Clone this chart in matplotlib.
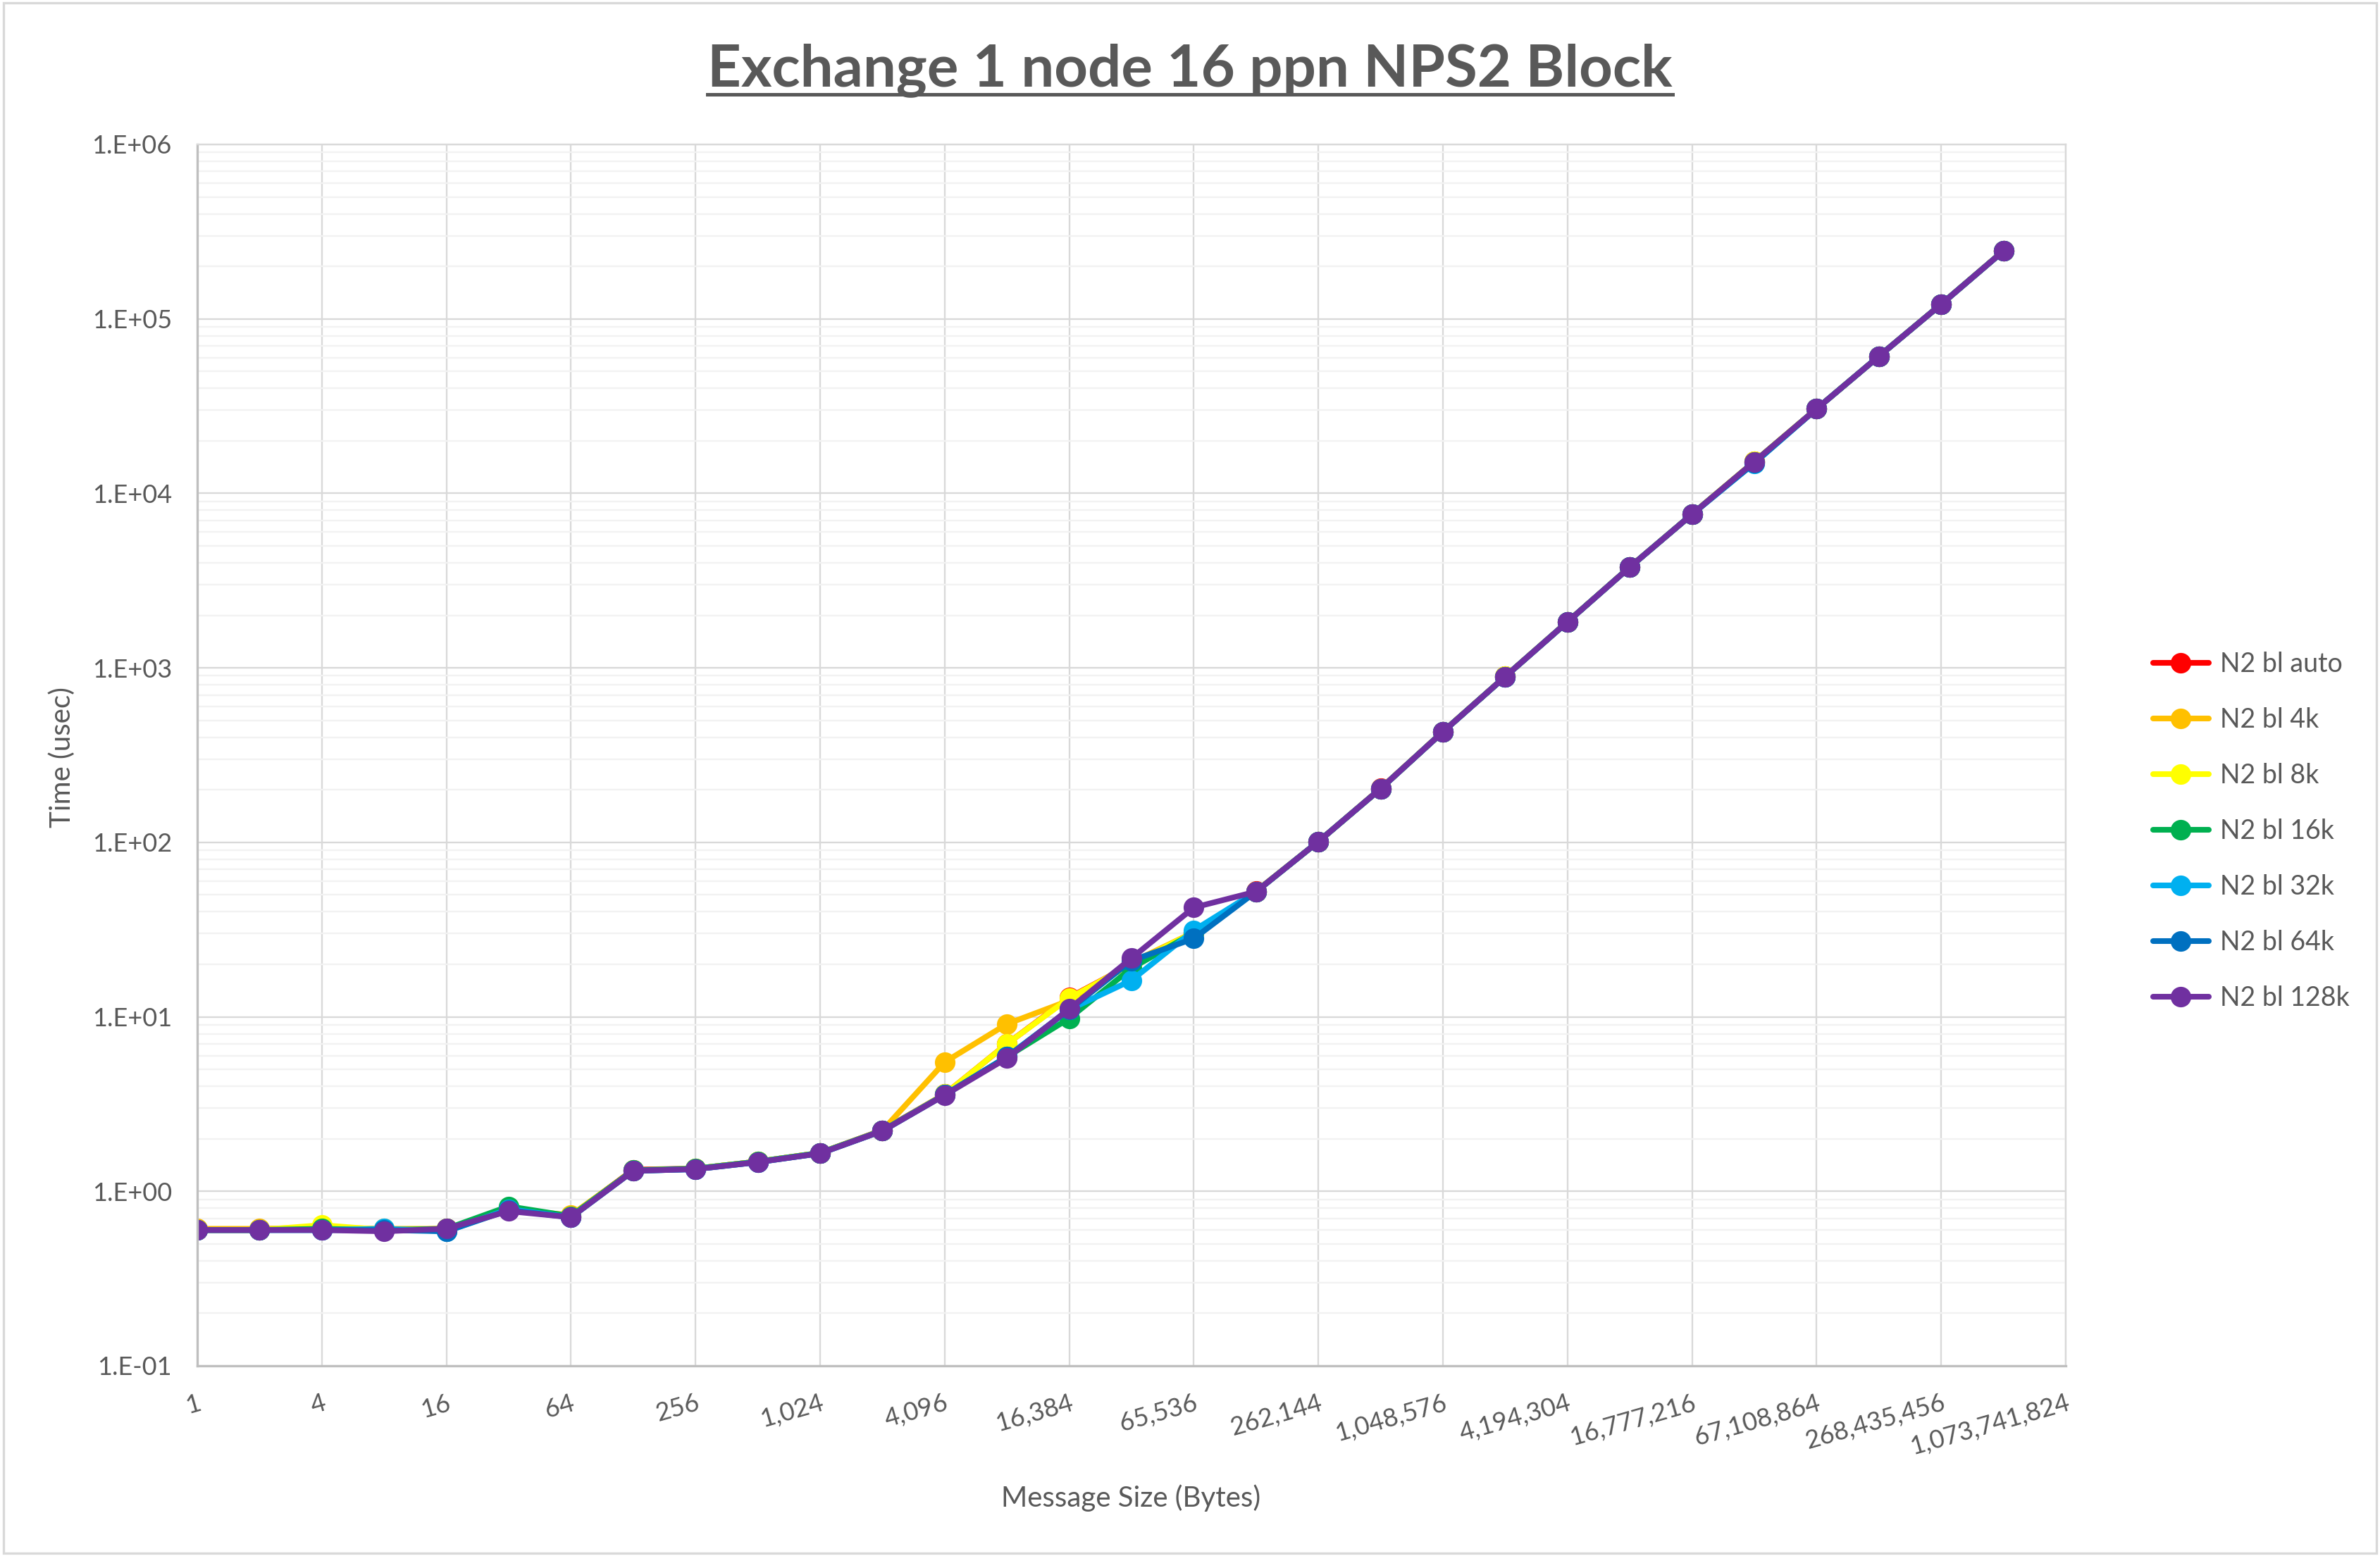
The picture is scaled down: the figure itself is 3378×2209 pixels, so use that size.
import matplotlib
matplotlib.use('Agg')
import matplotlib.pyplot as plt
from matplotlib.ticker import FixedLocator, NullFormatter
from matplotlib.lines import Line2D
from matplotlib.patches import Rectangle

# message sizes 2^0 .. 2^29 bytes
sizes = [2 ** i for i in range(30)]

# time (usec) per block setting
bl_auto = [0.60, 0.60, 0.61, 0.60, 0.61, 0.78, 0.72, 1.33, 1.35, 1.48, 1.66, 2.24, 3.60, 7.0, 12.9,
           20.0, 30.5, 52.5, 101, 204, 431, 893, 1838, 3785, 7600, 15200, 30550, 61100, 121500, 245500]
bl_4k = [0.61, 0.61, 0.62, 0.61, 0.61, 0.79, 0.73, 1.32, 1.35, 1.48, 1.66, 2.23, 5.5, 9.1, 12.4,
         20.5, 30.5, 52.3, 101, 203, 431, 892, 1836, 3780, 7595, 15190, 30540, 61080, 121400, 245200]
bl_8k = [0.60, 0.60, 0.64, 0.60, 0.61, 0.79, 0.72, 1.31, 1.35, 1.48, 1.66, 2.23, 3.60, 7.0, 12.8,
         20.0, 30.5, 52.3, 101, 203, 430, 892, 1836, 3780, 7595, 15190, 30540, 61080, 121400, 245200]
bl_16k = [0.60, 0.60, 0.61, 0.60, 0.61, 0.82, 0.72, 1.32, 1.35, 1.48, 1.66, 2.23, 3.58, 5.9, 9.8,
          19.0, 30.3, 52.2, 101, 203, 430, 891, 1835, 3778, 7592, 15180, 30530, 61070, 121300, 245000]
bl_32k = [0.60, 0.60, 0.60, 0.61, 0.59, 0.79, 0.71, 1.31, 1.34, 1.47, 1.65, 2.22, 3.57, 5.9, 11.0,
          16.2, 31.3, 52.2, 101, 203, 430, 891, 1834, 3777, 7590, 14900, 30530, 61070, 121300, 245000]
bl_64k = [0.60, 0.60, 0.60, 0.60, 0.59, 0.78, 0.71, 1.31, 1.34, 1.47, 1.65, 2.22, 3.57, 5.9, 11.0,
          21.0, 28.1, 52.2, 101, 203, 430, 891, 1834, 3777, 7590, 14950, 30530, 61070, 121300, 245000]
bl_128k = [0.60, 0.60, 0.60, 0.59, 0.61, 0.77, 0.71, 1.31, 1.34, 1.47, 1.65, 2.22, 3.56, 5.8, 11.1,
           21.7, 42.3, 52.2, 101, 203, 430, 891, 1834, 3777, 7590, 15180, 30530, 61070, 121300, 245000]

series_names = ['N2 bl auto', 'N2 bl 4k', 'N2 bl 8k', 'N2 bl 16k', 'N2 bl 32k', 'N2 bl 64k', 'N2 bl 128k']
series_vals = [bl_auto, bl_4k, bl_8k, bl_16k, bl_32k, bl_64k, bl_128k]
colors = ['#FF0000', '#FFC000', '#FFFF00', '#00B050', '#00B0F0', '#0070C0', '#7030A0']

x_ticks = [4 ** k for k in range(16)]
x_ticklabels = ['{:,}'.format(v) for v in x_ticks]
y_ticks = [10.0 ** e for e in range(-1, 7)]
y_ticklabels = ['1.E{:+03d}'.format(e) for e in range(-1, 7)]

plt.rcParams['font.family'] = ['Lato', 'DejaVu Sans']
txt = '#595959'
W, H = 3378, 2209

fig = plt.figure(figsize=(W / 200, H / 200), dpi=200)
ax = fig.add_axes([280 / W, 1 - 1939 / H, (2932 - 280) / W, (1939 - 205) / H])

for name, vals, c in zip(series_names, series_vals, colors):
    ax.plot(sizes, vals, color=c, lw=2.9, marker='o', markersize=9.5,
            solid_capstyle='round', label=name)

ax.set_xscale('log', base=2)
ax.set_yscale('log')
ax.set_xlim(1, 2 ** 30)
ax.set_ylim(0.1, 1e6)

ax.xaxis.set_major_locator(FixedLocator(x_ticks))
ax.xaxis.set_minor_locator(FixedLocator([]))
ax.set_xticklabels(x_ticklabels, rotation=16, ha='right', va='top', rotation_mode='anchor')
ax.yaxis.set_major_locator(FixedLocator(y_ticks))
ax.set_yticklabels(y_ticklabels)
minor_y = [m * 10.0 ** e for e in range(-1, 6) for m in range(2, 10)]
ax.yaxis.set_minor_locator(FixedLocator(minor_y))
ax.yaxis.set_minor_formatter(NullFormatter())

ax.tick_params(axis='x', which='both', length=0, pad=13, labelsize=13, labelcolor=txt)
ax.tick_params(axis='y', which='both', length=0, pad=13, labelsize=13, labelcolor=txt)

ax.grid(True, which='major', axis='both', color='#D9D9D9', lw=0.85, zorder=0)
ax.grid(True, which='minor', axis='y', color='#F2F2F2', lw=0.85, zorder=0)
ax.set_axisbelow(True)

for s in ['left', 'bottom']:
    ax.spines[s].set_color('#BFBFBF')
    ax.spines[s].set_linewidth(1.2)
for s in ['top', 'right']:
    ax.spines[s].set_color('#D9D9D9')
    ax.spines[s].set_linewidth(0.85)

fig.text(1605 / W, 1 - 2139 / H, 'Message Size (Bytes)', ha='center', va='baseline',
         fontsize=14.5, color=txt)
fig.text(88 / W, 1 - 1075 / H, 'Time (usec)', ha='center', va='center', rotation=90,
         fontsize=14.5, color=txt)

title = fig.text(0.5, 1 - 122 / H, 'Exchange 1 node 16 ppn NPS2 Block', ha='center',
                 va='baseline', fontsize=30, fontweight='bold', color=txt)

leg = fig.legend(loc='center left', bbox_to_anchor=(3022 / W, 1 - 1180 / H), frameon=False,
                 fontsize=13.5, labelspacing=1.15, handlelength=2.1, handletextpad=0.45,
                 labelcolor=txt)

# chart area border
fig.patches.append(Rectangle((0.0015, 0.002), 0.997, 0.996, transform=fig.transFigure,
                             fill=False, edgecolor='#D9D9D9', lw=1.2))

# underline the title
fig.canvas.draw()
bb = title.get_window_extent()
x0 = bb.x0 / W
x1 = bb.x1 / W
fig.lines.append(Line2D([x0, x1], [1 - 134 / H, 1 - 134 / H], transform=fig.transFigure,
                        color=txt, lw=1.8))

fig.savefig('out.png', dpi=200)
